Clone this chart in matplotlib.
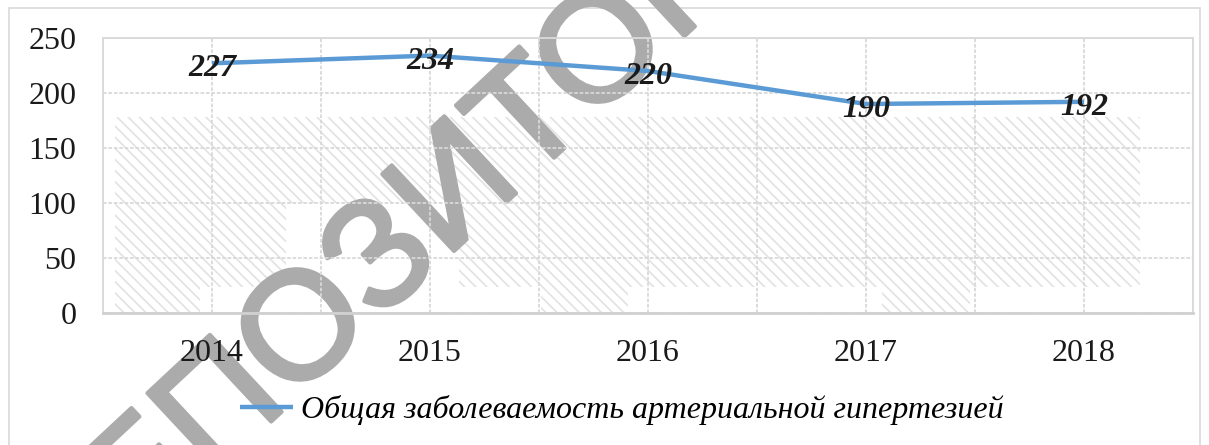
import matplotlib
matplotlib.use("Agg")
import matplotlib.pyplot as plt
import matplotlib.patheffects as pe
from matplotlib.patches import Rectangle

# data
years = ["2014", "2015", "2016", "2017", "2018"]
incidence = [227, 234, 220, 190, 192]
series_name = "Общая заболеваемость артериальной гипертезией"
y_ticks = [0, 50, 100, 150, 200, 250]

W, H = 1209, 445
serif = "Liberation Serif"
grid_c = "#d9d9d9"
line_c = "#5b9bd5"

plt.rcParams["hatch.linewidth"] = 1.2
fig = plt.figure(figsize=(W / 100, H / 100), dpi=100)


def px(x0, y0, x1, y1):
    # rectangle in image pixels (top-left origin) -> figure fraction
    return (x0 / W, 1 - y1 / H), (x1 - x0) / W, (y1 - y0) / H


# outer chart frame
xy, w, h = px(9, 8, 1200, 460)
fig.add_artist(Rectangle(xy, w, h, transform=fig.transFigure, fill=False,
                         edgecolor="#d9d9d9", lw=1.2, zorder=-2))

# scanned background hatching
for box in [(115, 117, 1140, 203), (115, 203, 286, 287), (459, 203, 1140, 287),
            (115, 287, 200, 313), (541, 287, 628, 313), (882, 287, 970, 313)]:
    xy, w, h = px(*box)
    fig.add_artist(Rectangle(xy, w, h, transform=fig.transFigure, fill=False,
                             hatch="\\\\\\", edgecolor="#e2e2e2", lw=0, zorder=-1))

ax = fig.add_axes([103 / W, 1 - 313 / H, 1090 / W, 275 / H])
ax.patch.set_alpha(0)

x = list(range(len(years)))
ax.plot(x, incidence, color=line_c, lw=3.2, solid_capstyle="butt",
        label=series_name, zorder=3)
for xi, v in zip(x, incidence):
    ax.annotate(str(v), (xi, v), xytext=(0, -4), textcoords="offset points",
                ha="center", va="center", fontsize=23, family=serif,
                fontweight="bold", fontstyle="italic", color="#1a1a1a", zorder=4)

ax.set_xlim(-0.5, len(years) - 0.5)
ax.set_ylim(0, 250)
ax.set_xticks(x)
ax.set_xticklabels(years)
ax.set_yticks(y_ticks)
ax.xaxis.remove_overlapping_locs = False
ax.set_xticks([i * 0.5 - 0.5 for i in range(2 * len(years) + 1)], minor=True)
ax.tick_params(which="both", length=0)
ax.tick_params(axis="x", pad=19, labelsize=23)
ax.tick_params(axis="y", pad=19, labelsize=23)
for lab in ax.get_xticklabels() + ax.get_yticklabels():
    lab.set_family(serif)
    lab.set_color("#1a1a1a")

ax.grid(axis="y", which="major", color=grid_c, lw=1.3, ls=(0, (2, 1)))
ax.grid(axis="x", which="minor", color=grid_c, lw=1.3, ls=(0, (2, 1)))
for side in ["top", "left", "right"]:
    ax.spines[side].set_color(grid_c)
    ax.spines[side].set_linestyle((0, (2, 1)))
    ax.spines[side].set_linewidth(1.3)
ax.spines["bottom"].set_color("#d0d0d0")
ax.spines["bottom"].set_linewidth(2)
ax.set_axisbelow(True)

fig.legend(loc="center left", bbox_to_anchor=(240 / W, 1 - 410 / H),
           frameon=False, borderpad=0, borderaxespad=0, handlelength=1.65,
           handletextpad=0.25,
           prop={"family": serif, "style": "italic", "size": 23})

# repository watermark (under axis labels, line and data labels, like in the scan)
ax.text(459 / W, 1 - 193 / H, "РЕПОЗИТОРИЙ", transform=fig.transFigure,
        rotation=43, ha="center", va="center", rotation_mode="anchor",
        fontsize=110, family="Liberation Sans", color="#ababab",
        clip_on=False, zorder=0.3,
        path_effects=[pe.withStroke(linewidth=3, foreground="#ababab")])

fig.savefig("out.png", dpi=100)
